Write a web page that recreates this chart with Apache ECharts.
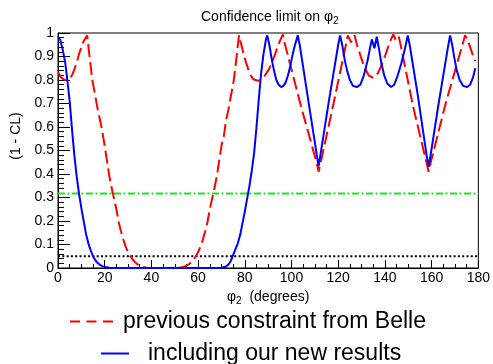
<!DOCTYPE html>
<html><head><meta charset="utf-8">
<script src="https://cdn.jsdelivr.net/npm/echarts@6/dist/echarts.min.js"></script>
<style>html,body{margin:0;padding:0;background:#fff}#c{width:493px;height:364px}</style>
</head><body><div id="c"></div>
<script>
// x-axis tick labels (degrees) and y-axis tick labels
var xTicks = [0,20,40,60,80,100,120,140,160,180];
var yTicks = [0,0.1,0.2,0.3,0.4,0.5,0.6,0.7,0.8,0.9,1];

// previous constraint from Belle (red dashed)
var redDeg = [0,1,2,3,4.1,5,6,7,8,9,10,11,12.5,13.5,14.7,16,17,18,18.7,20,21,22,23,24,25,26,27,28,29,30,31,32,33,34,35,36,37,38,40,42,48,50,52,53,54,55,56,57,58,59,60,61,62,63,64,65,66,67,68,69,70,71,72,73,74,75.3,76.5,77.5,78.5,79.5,80.5,81.5,82.5,83.5,84.5,85.9,87,88,89,90,91,92,93,94,95,96.3,97,104,111,111.6,112.3,118,123.5,124.1,125.5,127,128,129,130,131,132,133,134.8,136,137,138,139,140,141,142,143.6,144.6,145.9,146.5,152,158,158.7,159.4,166,173.5,174.3,175.3,176.5,177.5,178.7];
var redCL  = [0.833,0.815,0.805,0.8,0.798,0.805,0.82,0.845,0.875,0.91,0.94,0.965,0.99,0.9,0.8,0.73,0.675,0.63,0.596,0.52,0.455,0.39,0.34,0.295,0.25,0.195,0.155,0.12,0.09,0.068,0.05,0.036,0.025,0.016,0.01,0.006,0.003,0.0015,0.0003,0,0,0.0003,0.0015,0.003,0.006,0.01,0.016,0.025,0.036,0.05,0.068,0.09,0.12,0.155,0.195,0.25,0.295,0.34,0.39,0.455,0.52,0.56,0.63,0.675,0.73,0.8,0.9,0.99,0.95,0.91,0.875,0.845,0.82,0.805,0.8,0.797,0.8,0.81,0.825,0.84,0.86,0.885,0.91,0.94,0.965,0.994,0.96,0.69,0.44,0.41,0.44,0.7,0.96,0.99,0.96,0.99,0.95,0.92,0.89,0.86,0.84,0.82,0.81,0.815,0.83,0.85,0.875,0.9,0.93,0.96,0.994,0.97,0.985,0.96,0.69,0.44,0.41,0.44,0.7,0.96,0.99,0.975,0.94,0.91,0.88];

// including our new results (blue solid)
var blueDeg = [0,1,2,3,4,5,6,7,8,9,10,11,12,13,14,15,16,17,18,19,20,22,25,68,70,72,73,74,75,76,77,78,79,80,81,82,83,84,85,86,87,88,89,89.6,90.5,91.5,92.5,93.5,94.5,95.6,96.5,97.5,98.5,99.5,100.5,101.5,102.7,103.5,107,111,111.6,112.2,116,120,120.8,121.7,122.7,123.8,125,126.3,128,129.5,131,132.5,133.7,134.4,135.5,136.5,137.5,138.5,139.7,141,142.6,144,145.5,147,148.5,149.8,150.6,154,158,158.7,159.4,163,167,167.9,168.8,169.8,170.8,172,173.5,175.2,176.5,177.7,178.7];
var blueCL  = [0.985,0.97,0.93,0.88,0.8,0.71,0.59,0.48,0.39,0.317,0.255,0.2,0.145,0.105,0.075,0.05,0.033,0.021,0.013,0.008,0.004,0.001,0,0,0.001,0.006,0.015,0.03,0.055,0.08,0.105,0.14,0.19,0.24,0.295,0.35,0.415,0.49,0.6,0.72,0.83,0.91,0.97,0.99,0.95,0.89,0.84,0.8,0.78,0.77,0.775,0.79,0.82,0.86,0.91,0.95,0.99,0.95,0.725,0.47,0.434,0.47,0.71,0.95,0.99,0.95,0.89,0.84,0.8,0.775,0.77,0.78,0.82,0.88,0.94,0.973,0.935,0.984,0.93,0.87,0.82,0.785,0.77,0.78,0.82,0.87,0.93,0.99,0.95,0.74,0.47,0.431,0.47,0.7,0.94,0.99,0.95,0.89,0.84,0.8,0.775,0.77,0.78,0.81,0.85];

// reference levels
var oneSigmaLevel = 0.3173;
var levelFivePct = 0.05;
var xRange = [0, 180];

function zip(a, b) { return a.map(function (v, i) { return [v, b[i]]; }); }

var FONT = 'Liberation Sans';
var chart = echarts.init(document.getElementById('c'), null, {renderer: 'canvas'});
chart.setOption({
  animation: false,
  backgroundColor: '#fff',
  title: {
    text: '{t|Confidence limit on φ}{s|2}',
    left: 196, top: 3,
    textStyle: {
      fontWeight: 'normal',
      rich: {
        t: {fontFamily: FONT, fontSize: 14, fontWeight: 'normal', color: '#000'},
        s: {fontFamily: FONT, fontSize: 10, fontWeight: 'normal', color: '#000', padding: [8, 0, 0, 0]}
      }
    }
  },
  grid: {left: 58, right: 14, top: 33, bottom: 96, show: true, borderColor: '#000', borderWidth: 1, backgroundColor: 'transparent'},
  xAxis: {
    type: 'value', min: xTicks[0], max: xTicks[xTicks.length - 1], interval: 20,
    axisLine: {lineStyle: {color: '#000', width: 1}},
    axisTick: {inside: true, length: 8, lineStyle: {color: '#000'}},
    minorTick: {show: true, splitNumber: 4, length: 4, lineStyle: {color: '#000'}},
    splitLine: {show: false},
    axisLabel: {color: '#000', fontFamily: FONT, fontSize: 14, margin: 3},
    name: '{p|φ}{s|2}{n|  (degrees)}', nameLocation: 'middle', nameGap: 14,
    nameTextStyle: {
      verticalAlign: 'top',
      rich: {
        p: {fontFamily: FONT, fontSize: 14, color: '#000'},
        s: {fontFamily: FONT, fontSize: 10, color: '#000', padding: [8, 0, 0, 0]},
        n: {fontFamily: FONT, fontSize: 14, color: '#000'}
      }
    }
  },
  yAxis: {
    type: 'value', min: yTicks[0], max: yTicks[yTicks.length - 1], interval: 0.1,
    axisLine: {show: true, lineStyle: {color: '#000', width: 1}},
    axisTick: {show: true, inside: true, length: 12, lineStyle: {color: '#000'}},
    minorTick: {show: true, splitNumber: 5, length: 6, lineStyle: {color: '#000'}},
    splitLine: {show: false},
    axisLabel: {color: '#000', fontFamily: FONT, fontSize: 14, margin: 4,
      formatter: function (v) { return (Math.abs(v) < 1e-9) ? '0' : (Math.abs(v - 1) < 1e-9 ? '1' : v.toFixed(1)); }}
  },
  graphic: [{
    type: 'text', x: 16, y: 136, rotation: Math.PI / 2,
    style: {text: '(1 - CL)', font: '14px "Liberation Sans"', fill: '#000', align: 'center', verticalAlign: 'middle'}
  }],
  legend: [{
    data: [{name: 'previous constraint from Belle', icon: 'path://M0,0h10v2h-10z M16.5,0h10v2h-10z M33,0h10v2h-10z'}],
    left: 70, top: 310, padding: 0,
    itemWidth: 43, itemHeight: 2,
    textStyle: {fontFamily: FONT, fontSize: 23, color: '#000', padding: [0, 0, 0, 5]}
  }, {
    data: ['including our new results'],
    left: 100, top: 342, padding: 0,
    itemWidth: 28, itemHeight: 14,
    itemStyle: {opacity: 0},
    lineStyle: {width: 2},
    textStyle: {fontFamily: FONT, fontSize: 23, color: '#000', padding: [0, 0, 0, 14]}
  }],
  series: [{
    name: '1 sigma', type: 'line', symbol: 'none', silent: true,
    data: [[xRange[0], oneSigmaLevel], [xRange[1], oneSigmaLevel]],
    lineStyle: {color: '#1ee61e', width: 2, type: [7, 2.5, 2, 2.5]}
  }, {
    name: '5 percent', type: 'line', symbol: 'none', silent: true,
    data: [[xRange[0], levelFivePct], [xRange[1], levelFivePct]],
    lineStyle: {color: '#000', width: 2, type: [2, 2.3]}
  }, {
    name: 'previous constraint from Belle', type: 'line', symbol: 'none', smooth: false,
    data: zip(redDeg, redCL),
    itemStyle: {color: '#ff0000'},
    lineStyle: {color: '#ff0000', width: 2, type: [13, 5]}
  }, {
    name: 'including our new results', type: 'line', symbol: 'none', smooth: false,
    data: zip(blueDeg, blueCL),
    itemStyle: {color: '#0000ff'},
    lineStyle: {color: '#0000ff', width: 2}
  }]
});
</script></body></html>
